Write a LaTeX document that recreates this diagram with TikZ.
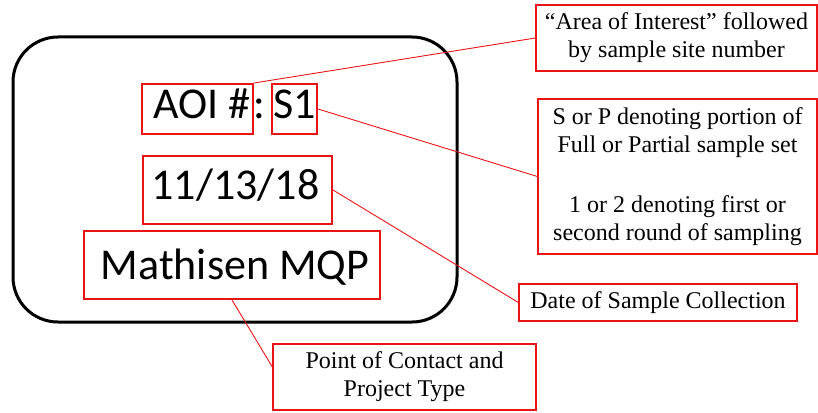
\documentclass[tikz,border=0pt]{standalone}
\usepackage{fontspec}
\setmainfont{Liberation Serif}
\newfontfamily\calib{Carlito}
\usetikzlibrary{calc}
\definecolor{mred}{RGB}{235,20,20}
\begin{document}
\begin{tikzpicture}[x=1pt,y=-1pt,
  card/.style={draw=black, line width=3pt, rounded corners=45pt, inner sep=0pt},
  redbox/.style={draw=mred, line width=2pt, inner sep=0pt},
  descbox/.style={draw=mred, line width=1.3pt, inner sep=0pt, align=center, font=\fontsize{24}{28}\selectfont},
  cardtext/.style={font=\calib\fontsize{44}{52}\selectfont, inner sep=0pt, anchor=base},
  leader/.style={draw=mred, line width=0.9pt}]
\useasboundingbox (0,0) rectangle (818,412);
\node[card, minimum width=444pt, minimum height=285pt] (card) at (235,179.5) {};
% red boxes on the card
\node[redbox, minimum width=111pt, minimum height=50pt] (aoi) at (197.5,109) {};
\node[redbox, minimum width=45pt, minimum height=50pt] (s1) at (294.5,109) {};
\node[redbox, minimum width=189pt, minimum height=68pt] (date) at (237.5,190) {};
\node[redbox, minimum width=296pt, minimum height=68pt] (mq) at (232,265) {};
% card texts
\node[cardtext] (aoitxt) at (202,118) {AOI \#};
\node[cardtext, anchor=base west] (colon) at (253,118) {:};
\node[cardtext] (s1txt) at (295,118) {S1};
\node[cardtext] (datetxt) at (235.5,199) {11/13/18};
\node[cardtext] (mqtxt) at (235,279) {Mathisen MQP};
% description boxes
\node[descbox, minimum width=281pt, minimum height=66pt] (aoid) at (676.5,38)
  {“Area of Interest” followed\\by sample site number};
\node[descbox, minimum width=279pt, minimum height=155pt] (sd) at (677.5,176.5)
  {S or P denoting portion of\\Full or Partial sample set\\[32pt]1 or 2 denoting first or\\second round of sampling};
\node[descbox, minimum width=278pt, minimum height=37pt] (dd) at (658,302.5)
  {Date of Sample Collection};
\node[descbox, minimum width=263pt, minimum height=66pt] (pc) at (404.5,377)
  {Point of Contact and\\Project Type};
% leaders
\draw[leader] (aoi.north east) -- (aoid.west);
\draw[leader] (s1.east) -- (sd.west);
\draw[leader] (date.east) -- (dd.west);
\draw[leader] (mq.south) -- ($(pc.north west)!0.35!(pc.south west)$);
\end{tikzpicture}
\end{document}
